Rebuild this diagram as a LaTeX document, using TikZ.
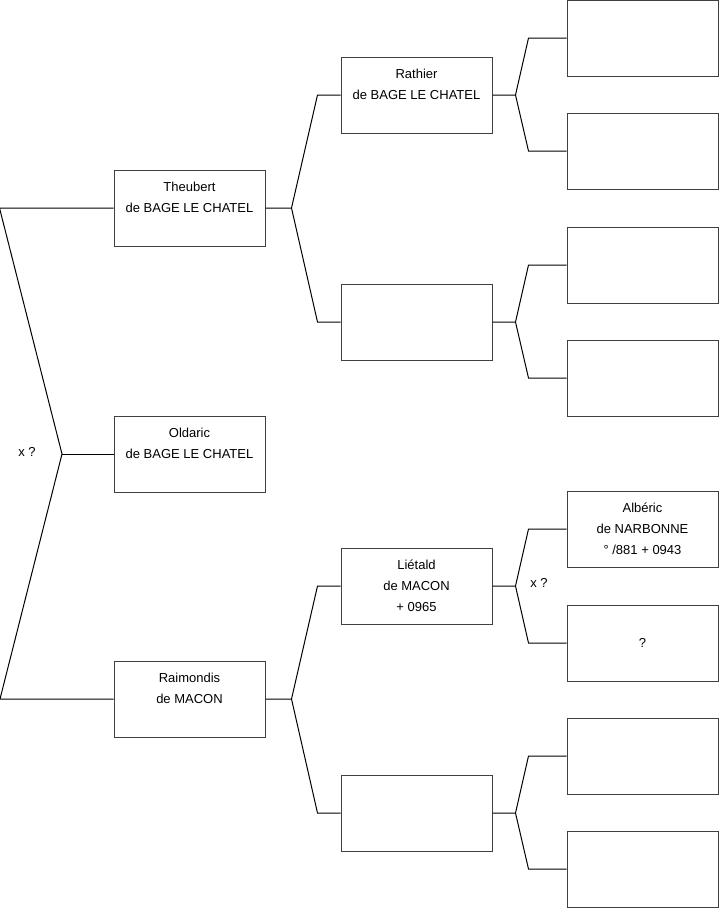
\documentclass[tikz,border=0pt]{standalone}
\usepackage{fontspec}
\setmainfont{Liberation Sans}
\usetikzlibrary{positioning, calc}

\begin{document}
\begin{tikzpicture}[x=1pt, y=-1pt, line width=1pt,
    pers/.style={draw=black!75, line width=1pt, minimum width=151pt, minimum height=76pt, inner sep=0pt, align=center, font=\fontsize{13}{21}\selectfont},
    tag/.style={font=\fontsize{13}{21}\selectfont}]
    \useasboundingbox (0,0) rectangle (719,908);

    % Generation 1
    \node[pers] (theubert) at (189.5,208) {Theubert\\de BAGE LE CHATEL\\\mbox{}};
    \node[pers] (oldaric) at (189.5,454) {Oldaric\\de BAGE LE CHATEL\\\mbox{}};
    \node[pers] (raimondis) at (189.5,699) {Raimondis\\de MACON\\\mbox{}};

    % Generation 2
    \node[pers] (rathier) at (416.5,95) {Rathier\\de BAGE LE CHATEL\\\mbox{}};
    \node[pers] (m2) at (416.5,322) {};
    \node[pers] (lietald) at (416.5,586) {Liétald\\de MACON\\+ 0965};
    \node[pers] (m4) at (416.5,813) {};

    % Generation 3
    \node[pers] (p1) at (642.5,38) {};
    \node[pers] (p2) at (642.5,151) {};
    \node[pers] (p3) at (642.5,265) {};
    \node[pers] (p4) at (642.5,378) {};
    \node[pers] (alberic) at (642.5,529) {Albéric\\de NARBONNE\\° /881 + 0943};
    \node[pers] (p6) at (642.5,643) {?};
    \node[pers] (p7) at (642.5,756) {};
    \node[pers] (p8) at (642.5,869) {};

    % Marriage labels
    \node[tag] (x1) at (27,452) {x ?};
    \node[tag] (x2) at (539,583) {x ?};

    % Parents of Oldaric
    \coordinate (f0) at (62,454);
    \draw (theubert.west) -- ++(-114,0) -- (f0) -- (raimondis.west -| 0,0) -- (raimondis.west);
    \draw (f0) -- (oldaric.west);

    % Parents of generation 1
    \draw (theubert.east) -- ++(26,0) coordinate (f1) -- ([xshift=-23pt]rathier.west) -- (rathier.west);
    \draw (f1) -- ([xshift=-23pt]m2.west) -- (m2.west);
    \draw (raimondis.east) -- ++(26,0) coordinate (f2) -- ([xshift=-23pt]lietald.west) -- (lietald.west);
    \draw (f2) -- ([xshift=-23pt]m4.west) -- (m4.west);

    % Parents of generation 2
    \draw (rathier.east) -- ++(23,0) coordinate (f3) -- ([xshift=-38pt]p1.west) -- (p1.west);
    \draw (f3) -- ([xshift=-38pt]p2.west) -- (p2.west);
    \draw (m2.east) -- ++(23,0) coordinate (f4) -- ([xshift=-38pt]p3.west) -- (p3.west);
    \draw (f4) -- ([xshift=-38pt]p4.west) -- (p4.west);
    \draw (lietald.east) -- ++(23,0) coordinate (f5) -- ([xshift=-38pt]alberic.west) -- (alberic.west);
    \draw (f5) -- ([xshift=-38pt]p6.west) -- (p6.west);
    \draw (m4.east) -- ++(23,0) coordinate (f6) -- ([xshift=-38pt]p7.west) -- (p7.west);
    \draw (f6) -- ([xshift=-38pt]p8.west) -- (p8.west);
\end{tikzpicture}
\end{document}
